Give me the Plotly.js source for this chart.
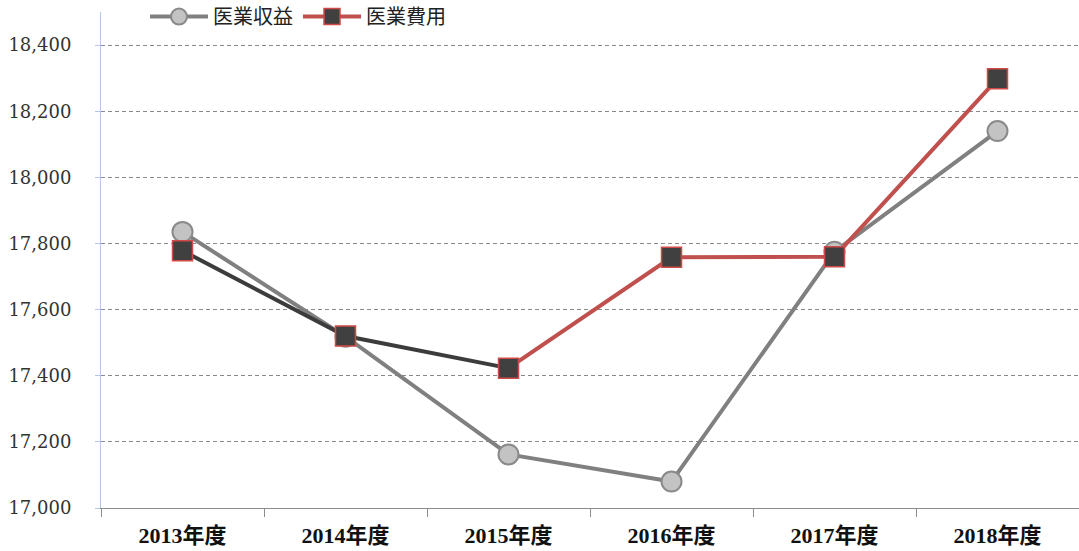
<!DOCTYPE html>
<html>
<head>
<meta charset="utf-8">
<script src="https://cdn.plot.ly/plotly-3.0.1.min.js"></script>
<style>html,body{margin:0;padding:0;background:#fff;}#chart{width:1079px;height:551px;}</style>
</head>
<body>
<div id="chart"></div>
<script>
const categories = ['2013年度','2014年度','2015年度','2016年度','2017年度','2018年度'];
const revenue = [17835, 17518, 17162, 17080, 17775, 18140];   // 医業収益
const expense = [17778, 17520, 17423, 17758, 17760, 18298];   // 医業費用
const seriesNames = ['医業収益', '医業費用'];
const yTicks = [17000, 17200, 17400, 17600, 17800, 18000, 18200, 18400];

const darkEnd = 3; // 費用 segments up to 2015 drawn dark, afterwards red

const traces = [
  {
    x: categories, y: revenue, name: seriesNames[0], type: 'scatter', mode: 'lines+markers',
    line: {color: '#808080', width: 4},
    marker: {symbol: 'circle', size: 20, color: '#c3c3c3', line: {color: '#8a8a8a', width: 2}}
  },
  {
    x: categories.slice(0, darkEnd), y: expense.slice(0, darkEnd), name: seriesNames[1], type: 'scatter', mode: 'lines',
    line: {color: '#3c3c3c', width: 4}, showlegend: false
  },
  {
    x: categories.slice(darkEnd - 1), y: expense.slice(darkEnd - 1), name: seriesNames[1], type: 'scatter', mode: 'lines',
    line: {color: '#c0504d', width: 4}, showlegend: false
  },
  {
    x: categories, y: expense, name: seriesNames[1], type: 'scatter', mode: 'markers',
    marker: {symbol: 'square', size: 20, color: '#404040', line: {color: '#d04a48', width: 1.5}},
    showlegend: false
  },
  {
    x: categories, y: expense.map(() => null), name: seriesNames[1], type: 'scatter', mode: 'lines+markers',
    line: {color: '#c0504d', width: 4},
    marker: {symbol: 'square', size: 20, color: '#404040', line: {color: '#d04a48', width: 1.5}},
    hoverinfo: 'skip'
  }
];

const layout = {
  width: 1079, height: 551,
  margin: {l: 101, r: 0, t: 12, b: 43, pad: 0, autoexpand: false},
  paper_bgcolor: '#ffffff', plot_bgcolor: '#ffffff',
  showlegend: true,
  legend: {
    orientation: 'h', x: 0.045, xanchor: 'left', y: 1.03, yanchor: 'top',
    bgcolor: 'rgba(0,0,0,0)', itemwidth: 58, tracegroupgap: 0,
    font: {family: '"Noto Sans CJK JP", sans-serif', size: 20, color: '#222'}
  },
  xaxis: {
    type: 'category', categoryorder: 'array', categoryarray: categories,
    range: [-0.5, categories.length - 0.5], autorange: false,
    showgrid: false, zeroline: false,
    showline: true, linecolor: '#8c8c8c', linewidth: 1,
    ticks: 'outside', tickson: 'boundaries', ticklen: 8, tickcolor: '#8c8c8c', tickwidth: 1,
    tickfont: {family: '"Liberation Serif", "Noto Sans CJK JP", serif', size: 22, color: '#111', weight: 'bold'},
    ticklabelstandoff: 8,
    fixedrange: true
  },
  yaxis: {
    range: [17000, 18500], autorange: false, tickvals: yTicks,
    ticktext: yTicks.map(v => v.toLocaleString('en-US')),
    showgrid: true, gridcolor: '#8a8a8a', gridwidth: 1, griddash: '4px,3px',
    zeroline: false,
    showline: true, linecolor: '#b4c7e7', linewidth: 1,
    ticks: 'outside', ticklen: 5, tickcolor: '#b4c7e7',
    tickfont: {family: '"DejaVu Serif", serif', size: 18, color: '#333'},
    ticklabelstandoff: 20,
    fixedrange: true
  }
};

Plotly.newPlot('chart', traces, layout, {displayModeBar: false, staticPlot: true});
</script>
</body>
</html>
